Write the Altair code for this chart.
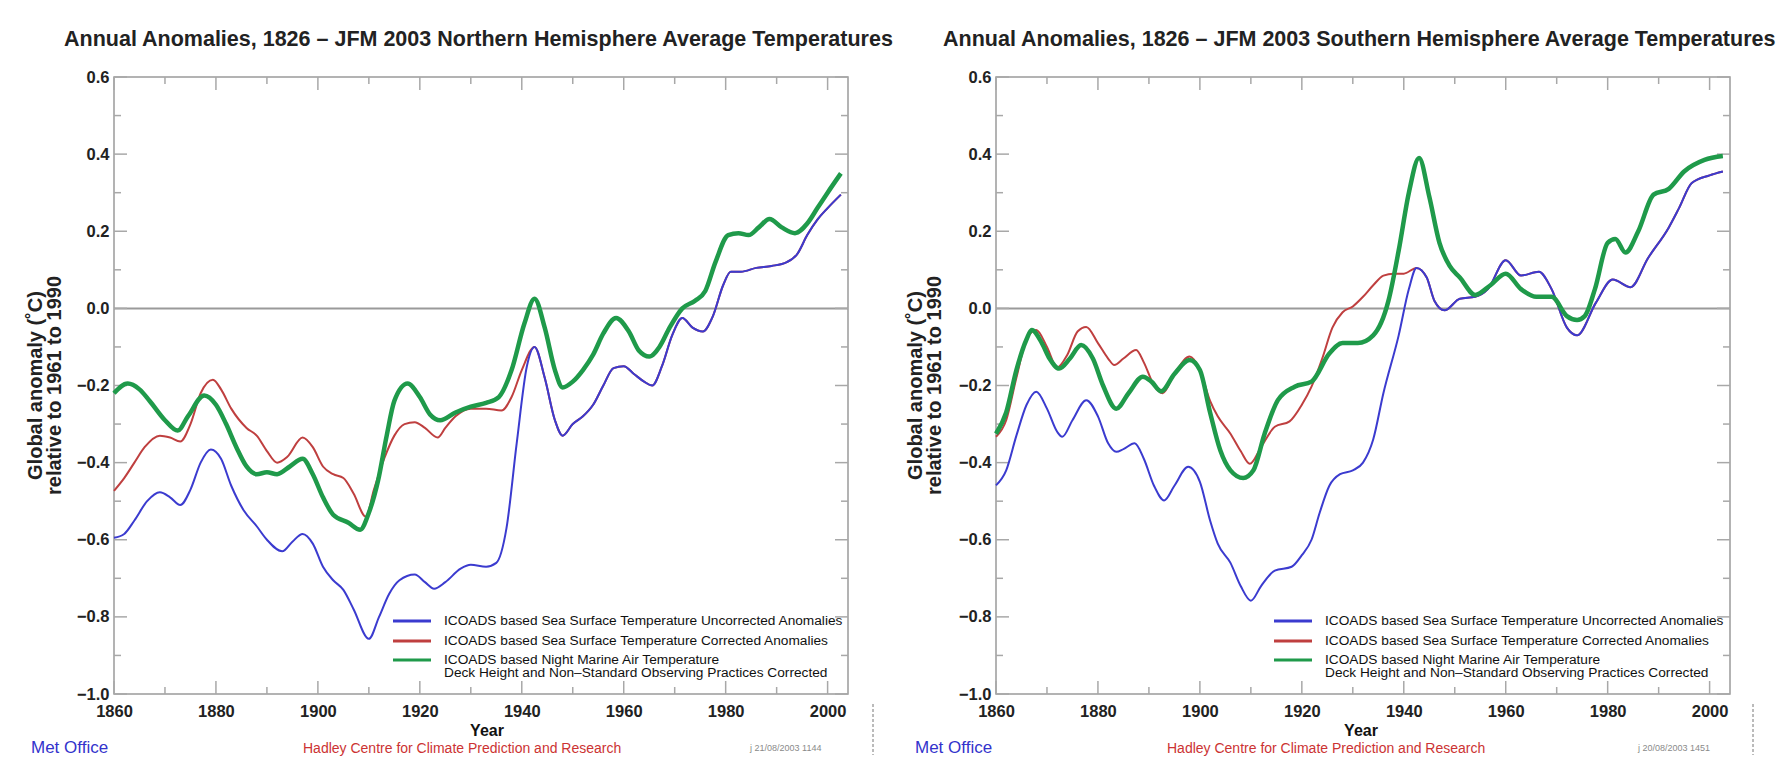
import altair as alt
import pandas as pd

# ---------------- data ----------------
X_DOMAIN = [1860, 2004]
Y_DOMAIN = [-1.0, 0.6]
X_LABELS = [1860, 1880, 1900, 1920, 1940, 1960, 1980, 2000]
X_MINOR = [1870, 1890, 1910, 1930, 1950, 1970, 1990]
Y_LABELS = [-1.0, -0.8, -0.6, -0.4, -0.2, 0.0, 0.2, 0.4, 0.6]
Y_MINOR = [-0.9, -0.7, -0.5, -0.3, -0.1, 0.1, 0.3, 0.5]

SERIES = [
    "ICOADS based Sea Surface Temperature Uncorrected Anomalies",
    "ICOADS based Sea Surface Temperature Corrected Anomalies",
    "ICOADS based Night Marine Air Temperature\nDeck Height and Non\u2013Standard Observing Practices Corrected",
]

# Northern hemisphere
nh_blue_years = [1860, 1862, 1864, 1866.5, 1869, 1871, 1873, 1875, 1877, 1879, 1881, 1883, 1885.5,
                 1888, 1890, 1893, 1895, 1897, 1899, 1901, 1903, 1905, 1907, 1910, 1912, 1914,
                 1916, 1919, 1921, 1922.8, 1925, 1928, 1930, 1933, 1935, 1937, 1939, 1941, 1942.5,
                 1944.5, 1946.5, 1948, 1950, 1952, 1954, 1956, 1958, 1960, 1962, 1964, 1965.6,
                 1967.5, 1969.5, 1971.5, 1973.5, 1975.5, 1977.5, 1979.5, 1981, 1983, 1986, 1989,
                 1992, 1994, 1996, 1998, 2000, 2002.6]
nh_blue_vals = [-0.595, -0.585, -0.55, -0.50, -0.477, -0.49, -0.51, -0.47, -0.40, -0.366, -0.39,
                -0.46, -0.525, -0.565, -0.60, -0.63, -0.605, -0.585, -0.61, -0.67, -0.705, -0.73,
                -0.78, -0.857, -0.80, -0.74, -0.705, -0.69, -0.71, -0.727, -0.71, -0.675, -0.665,
                -0.67, -0.66, -0.57, -0.35, -0.15, -0.10, -0.18, -0.29, -0.33, -0.30, -0.28, -0.25,
                -0.20, -0.155, -0.15, -0.17, -0.19, -0.20, -0.15, -0.07, -0.025, -0.05, -0.06,
                -0.02, 0.06, 0.095, 0.095, 0.105, 0.11, 0.12, 0.14, 0.19, 0.23, 0.26, 0.295]
nh_red_years = [1860, 1862, 1864, 1866, 1869, 1871, 1873, 1875, 1877, 1879.4, 1881, 1883, 1886,
                1888, 1890, 1892, 1894, 1897, 1899, 1901, 1903, 1905, 1907, 1909.4, 1911, 1913,
                1915, 1917, 1919, 1921, 1923.5, 1925, 1927, 1930, 1933, 1936, 1938, 1940]
nh_red_vals = [-0.473, -0.44, -0.40, -0.36, -0.33, -0.335, -0.345, -0.30, -0.22, -0.185, -0.21,
               -0.26, -0.31, -0.33, -0.37, -0.40, -0.385, -0.335, -0.36, -0.41, -0.43, -0.44,
               -0.48, -0.54, -0.47, -0.39, -0.33, -0.30, -0.295, -0.31, -0.335, -0.31, -0.28,
               -0.26, -0.26, -0.265, -0.23, -0.16]
nh_green_years = [1860, 1862.7, 1865, 1867, 1870, 1872.5, 1874.5, 1877.7, 1880, 1882, 1884, 1886,
                  1888, 1890, 1892, 1894.5, 1897, 1899, 1901, 1903, 1906, 1908.3, 1910, 1911.8,
                  1913.5, 1915, 1917.6, 1920, 1922, 1924, 1927, 1930, 1933, 1935.5, 1938, 1940.5,
                  1942.5, 1944.5, 1946.5, 1948, 1950, 1952, 1954, 1956, 1958.5, 1961, 1963, 1965,
                  1967, 1969, 1971.5, 1974, 1976, 1978, 1980.5, 1982.5, 1984.5, 1986.5, 1988.6,
                  1991, 1993.6, 1996, 1998, 2000, 2002.6]
nh_green_vals = [-0.22, -0.195, -0.21, -0.24, -0.29, -0.317, -0.28, -0.226, -0.25, -0.30, -0.36,
                 -0.41, -0.43, -0.425, -0.43, -0.41, -0.39, -0.43, -0.49, -0.535, -0.556, -0.574,
                 -0.53, -0.447, -0.33, -0.24, -0.195, -0.23, -0.275, -0.29, -0.27, -0.255, -0.245,
                 -0.23, -0.16, -0.04, 0.025, -0.05, -0.16, -0.205, -0.19, -0.16, -0.12, -0.065,
                 -0.025, -0.06, -0.11, -0.125, -0.10, -0.05, 0.0, 0.02, 0.045, 0.12, 0.19, 0.195,
                 0.19, 0.21, 0.232, 0.21, 0.195, 0.22, 0.26, 0.30, 0.35]

# Southern hemisphere
sh_blue_years = [1860, 1862, 1864, 1866, 1867.9, 1870, 1872, 1873, 1875, 1877.7, 1880, 1882,
                 1883.6, 1885, 1887.2, 1889, 1891, 1893, 1895, 1897.7, 1900, 1902, 1903.5, 1906,
                 1908, 1910, 1912, 1914.7, 1918, 1920, 1921.9, 1923.5, 1925.4, 1927.5, 1930, 1932,
                 1934, 1936, 1939, 1941, 1942.5, 1944.5, 1946, 1948, 1951, 1954, 1956.5, 1960,
                 1963, 1966.5, 1969, 1972, 1974, 1977.7, 1981, 1984.5, 1987.9, 1992, 1994, 1996.5,
                 2000, 2002.6]
sh_blue_vals = [-0.459, -0.42, -0.33, -0.25, -0.216, -0.26, -0.32, -0.333, -0.29, -0.238, -0.28,
                -0.35, -0.372, -0.365, -0.35, -0.39, -0.46, -0.498, -0.46, -0.411, -0.45, -0.55,
                -0.61, -0.66, -0.72, -0.758, -0.72, -0.68, -0.67, -0.64, -0.60, -0.53, -0.46,
                -0.43, -0.42, -0.40, -0.34, -0.22, -0.07, 0.05, 0.105, 0.08, 0.02, -0.005, 0.025,
                0.03, 0.05, 0.125, 0.085, 0.095, 0.05, -0.05, -0.07, 0.015, 0.075, 0.055, 0.13,
                0.21, 0.26, 0.325, 0.345, 0.355]
sh_red_years = [1860, 1862, 1864, 1866, 1867.9, 1870, 1872, 1874, 1876, 1877.7, 1880, 1882,
                1883.2, 1885, 1887.5, 1889, 1891, 1892.7, 1895, 1898, 1900, 1902, 1903.5, 1906,
                1908, 1909.8, 1912, 1914.7, 1917.6, 1920, 1921.9, 1924, 1926, 1928, 1930, 1932,
                1934, 1936, 1938, 1940]
sh_red_vals = [-0.333, -0.29, -0.18, -0.08, -0.056, -0.10, -0.153, -0.12, -0.06, -0.048, -0.09,
               -0.13, -0.147, -0.13, -0.108, -0.14, -0.20, -0.22, -0.17, -0.125, -0.16, -0.24,
               -0.28, -0.325, -0.37, -0.403, -0.36, -0.307, -0.293, -0.25, -0.203, -0.13, -0.05,
               -0.01, 0.005, 0.03, 0.06, 0.085, 0.09, 0.09]
sh_green_years = [1860, 1862, 1864, 1866, 1867, 1869, 1870.5, 1872.4, 1874.5, 1876.7, 1879, 1881,
                  1883.6, 1886, 1888.8, 1890.5, 1892.4, 1895, 1898, 1900, 1902, 1904, 1906,
                  1908.5, 1910.5, 1912.7, 1915.3, 1918.6, 1921.9, 1925.4, 1928, 1931, 1934, 1937,
                  1939, 1941, 1943, 1945, 1947, 1949, 1951, 1954, 1957, 1960, 1963, 1966, 1969,
                  1972, 1974, 1975.5, 1977.5, 1980, 1981.5, 1983.5, 1986, 1989, 1992, 1995, 1999,
                  2002.6]
sh_green_vals = [-0.325, -0.27, -0.16, -0.08, -0.056, -0.09, -0.13, -0.156, -0.13, -0.095, -0.13,
                 -0.20, -0.26, -0.22, -0.177, -0.19, -0.215, -0.17, -0.134, -0.16, -0.27, -0.368,
                 -0.42, -0.44, -0.42, -0.325, -0.238, -0.203, -0.19, -0.117, -0.09, -0.09, -0.07,
                 0.02, 0.15, 0.30, 0.39, 0.29, 0.17, 0.11, 0.08, 0.035, 0.06, 0.09, 0.05, 0.03,
                 0.03, -0.02, -0.03, -0.02, 0.05, 0.17, 0.18, 0.145, 0.20, 0.295, 0.31, 0.355,
                 0.385, 0.395]

NH_TITLE = "Annual Anomalies, 1826 \u2013 JFM 2003 Northern Hemisphere Average Temperatures"
SH_TITLE = "Annual Anomalies, 1826 \u2013 JFM 2003 Southern Hemisphere Average Temperatures"
NH_STAMP = "j  21/08/2003 1144"
SH_STAMP = "j  20/08/2003 1451"
Y_TITLE = "Global anomaly (\u02daC)\nrelative to 1961 to 1990"

# ---------------- styling ----------------
W, H = 734, 617
FONT = "Liberation Sans"
BLUE, RED, GREEN = "#3b3bcf", "#bf3f3f", "#1f9a4a"
TICK = "#a8a8a8"

xs = alt.Scale(domain=X_DOMAIN, nice=False, zero=False)
ys = alt.Scale(domain=Y_DOMAIN, nice=False, zero=False)
x_axis = alt.Axis(values=X_LABELS, format="d", ticks=False, tickSize=0, domain=False, grid=False,
                  title=None, labelPadding=9, labelFlush=False, labelOverlap=False, zindex=1)
y_axis = alt.Axis(values=Y_LABELS, format=".1f", ticks=False, tickSize=0, domain=False, grid=False,
                  title=None, labelPadding=5, labelFlush=False, labelOverlap=False, zindex=1)


def X(field):
    return alt.X(field, scale=xs, axis=x_axis)


def Y(field):
    return alt.Y(field, scale=ys, axis=y_axis)


def one(**kw):
    return pd.DataFrame({k: [v] for k, v in kw.items()})


def text_layer(txt, x, y, size, color="#111111", weight="normal", align="left",
               baseline="middle", angle=None, line_height=None):
    kw = dict(font=FONT, fontSize=size, color=color, fontWeight=weight, align=align,
              baseline=baseline, lineBreak="\n")
    if angle is not None:
        kw["angle"] = angle
    if line_height is not None:
        kw["lineHeight"] = line_height
    return alt.Chart(one(t=txt)).mark_text(**kw).encode(
        text="t:N", x=alt.value(x), y=alt.value(y))


def line_layer(years, vals, color, width):
    df = pd.DataFrame({"year": years, "v": vals})
    return alt.Chart(df).mark_line(color=color, strokeWidth=width, interpolate="monotone").encode(
        x=X("year:Q"), y=Y("v:Q"))


def xticks(vals, length):
    df = pd.DataFrame({"year": vals})
    bottom = alt.Chart(df).mark_rule(color=TICK, strokeWidth=1.5).encode(
        x=X("year:Q"), y=alt.value(H), y2=alt.value(H - length))
    top = alt.Chart(df).mark_rule(color=TICK, strokeWidth=1.5).encode(
        x=X("year:Q"), y=alt.value(0), y2=alt.value(length))
    return [bottom, top]


def yticks(vals, length):
    df = pd.DataFrame({"v": vals})
    left = alt.Chart(df).mark_rule(color=TICK, strokeWidth=1.5).encode(
        y=Y("v:Q"), x=alt.value(0), x2=alt.value(length))
    right = alt.Chart(df).mark_rule(color=TICK, strokeWidth=1.5).encode(
        y=Y("v:Q"), x=alt.value(W), x2=alt.value(W - length))
    return [left, right]


def marker(x, y):
    return alt.Chart(one(a=0)).mark_rect(color="white", opacity=0.01).encode(
        x=alt.value(x), x2=alt.value(x + 1), y=alt.value(y), y2=alt.value(y + 1))


def panel(blue, red, green, title, stamp, layout):
    layers = []
    layers += layout.get("markers", [])
    zero = alt.Chart(one(v=0.0)).mark_rule(color="#9a9a9a", strokeWidth=2).encode(
        y=Y("v:Q"), x=alt.value(0), x2=alt.value(W))
    layers.append(zero)
    layers += xticks(X_LABELS, 13) + xticks(X_MINOR, 7)
    layers += yticks(Y_LABELS, 13) + yticks(Y_MINOR, 7)
    layers.append(line_layer(red[0], red[1], RED, 2))
    layers.append(line_layer(blue[0], blue[1], BLUE, 2))
    layers.append(line_layer(green[0], green[1], GREEN, 4.5))
    # legend
    rows = [544, 564, 583]
    for name, color, row in zip(SERIES, [BLUE, RED, GREEN], rows):
        layers.append(alt.Chart(one(a=0)).mark_rule(color=color, strokeWidth=3).encode(
            x=alt.value(layout["leg_x"]), x2=alt.value(layout["leg_x"] + 38), y=alt.value(row)))
        if "\n" in name:
            layers.append(text_layer(name, layout["leg_x"] + 51, row - 7, 13.7, color="#111111",
                                     baseline="top", line_height=13))
        else:
            layers.append(text_layer(name, layout["leg_x"] + 51, row, 13.7, color="#111111"))
    # texts
    layers.append(text_layer(title, layout["title_x"], -37, 21.5, color="#222222", weight="bold"))
    layers.append(text_layer(Y_TITLE, layout["ytitle_x"], H / 2, 20, color="#222222",
                             weight="bold", align="center", angle=270, line_height=19))
    layers.append(text_layer("Year", layout["year_x"], 654, 16, color="#111111", weight="bold",
                             align="center"))
    layers.append(text_layer("Met Office", layout["met_x"], 676, 17, color="#3333cc",
                             baseline="alphabetic"))
    layers.append(text_layer("Hadley Centre for Climate Prediction and Research", layout["had_x"],
                             676, 14, color="#cc3333", baseline="alphabetic"))
    layers.append(text_layer(stamp, layout["stamp_x"], 674, 9, color="#8a8a8a",
                             baseline="alphabetic"))
    layers.append(alt.Chart(one(a=0)).mark_rule(color="#777777", strokeWidth=1,
                                                 strokeDash=[3, 2]).encode(
        x=alt.value(layout["dash_x"]), y=alt.value(627), y2=alt.value(678)))
    return alt.layer(*layers).properties(width=W, height=H)


nh_red = (nh_red_years + [y for y in nh_blue_years if y >= 1942.5],
          nh_red_vals + [v for y, v in zip(nh_blue_years, nh_blue_vals) if y >= 1942.5])
sh_red = (sh_red_years + [y for y in sh_blue_years if y >= 1942.5],
          sh_red_vals + [v for y, v in zip(sh_blue_years, sh_blue_vals) if y >= 1942.5])

left = panel((nh_blue_years, nh_blue_vals), nh_red, (nh_green_years, nh_green_vals),
             NH_TITLE, NH_STAMP,
             dict(markers=[marker(-105, -68)], leg_x=279, title_x=-50, ytitle_x=-78,
                  year_x=373, met_x=-83, had_x=189, stamp_x=636, dash_x=759))
right = panel((sh_blue_years, sh_blue_vals), sh_red, (sh_green_years, sh_green_vals),
              SH_TITLE, SH_STAMP,
              dict(markers=[marker(0, 677)], leg_x=278, title_x=-53, ytitle_x=-80,
                   year_x=365, met_x=-81, had_x=171, stamp_x=642, dash_x=757))

chart = alt.hconcat(left, right, spacing=148, bounds="flush").properties(
    padding=0, background="white"
).configure_view(
    stroke="#9a9a9a", strokeWidth=1.5
).configure_axis(
    labelFont=FONT, labelFontSize=16.5, labelFontWeight="bold", labelColor="#222222"
)

chart.save("out.html", embed_options={"renderer": "svg", "actions": False})
